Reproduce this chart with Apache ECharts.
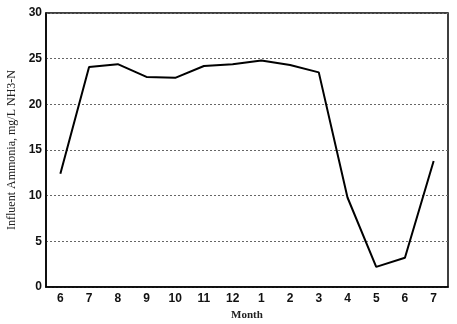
<!DOCTYPE html>
<html><head><meta charset="utf-8">
<script src="https://cdn.jsdelivr.net/npm/echarts@6/dist/echarts.min.js"></script>
<style>html,body{margin:0;padding:0;background:#fff}#c{width:457px;height:324px}</style>
</head><body><div id="c"></div>
<script>
const months = ['6','7','8','9','10','11','12','1','2','3','4','5','6','7'];
const ammonia = [12.4, 24.1, 24.4, 23.0, 22.9, 24.2, 24.4, 24.8, 24.3, 23.5, 9.8, 2.2, 3.2, 13.8];
const yTicks = [0, 5, 10, 15, 20, 25, 30];

const chart = echarts.init(document.getElementById('c'));
chart.setOption({
  animation: false,
  grid: {left: 46, right: 9, top: 13, bottom: 37, show: true, borderColor: '#000', borderWidth: 1.5,
    containLabel: false, outerBoundsMode: 'none'},
  xAxis: {
    type: 'category', data: months, boundaryGap: true,
    name: 'Month', nameLocation: 'middle', nameGap: 19,
    nameTextStyle: {fontFamily: 'Liberation Serif', fontWeight: 'bold', fontSize: 11, color: '#222'},
    axisLine: {lineStyle: {color: '#000', width: 1.5}},
    axisTick: {alignWithLabel: true, length: 3, lineStyle: {color: '#000'}},
    axisLabel: {fontFamily: 'Liberation Sans', fontWeight: 'bold', fontSize: 12, color: '#111', margin: 6},
    splitLine: {show: false}
  },
  yAxis: {
    type: 'value', min: 0, max: 30, interval: 5,
    name: 'Influent Ammonia, mg/L NH3-N', nameLocation: 'middle', nameGap: 27,
    nameTextStyle: {fontFamily: 'Liberation Serif', fontSize: 12, color: '#222'},
    axisLine: {show: true, lineStyle: {color: '#000', width: 1.5}},
    axisTick: {show: false},
    axisLabel: {fontFamily: 'Liberation Sans', fontWeight: 'bold', fontSize: 12, color: '#111', margin: 4,
      formatter: v => yTicks.includes(v) ? String(v) : ''},
    splitLine: {show: true, lineStyle: {color: '#666', type: [2, 2], width: 1}}
  },
  series: [{
    type: 'line', data: ammonia, symbol: 'none',
    lineStyle: {color: '#000', width: 2}
  }]
});
</script></body></html>
